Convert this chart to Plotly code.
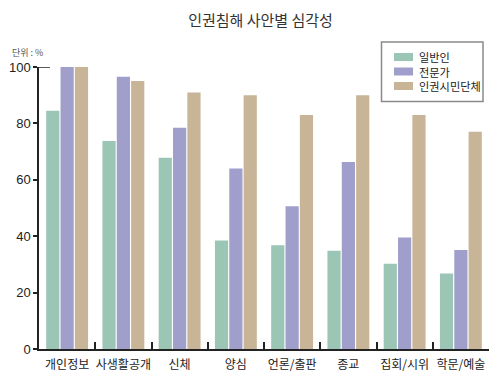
import plotly.graph_objects as go

categories = ["개인정보", "사생활공개", "신체", "양심", "언론/출판", "종교", "집회/시위", "학문/예술"]
series_names = ["일반인", "전문가", "인권시민단체"]
general = [84.5, 73.8, 67.8, 38.5, 36.8, 34.8, 30.2, 26.8]
expert = [100, 96.5, 78.5, 64, 50.6, 66.3, 39.5, 35.1]
civic = [100, 95, 91, 90, 83, 90, 83, 77]
y_ticks = [0, 20, 40, 60, 80, 100]

colors = ["#9bc6b5", "#a09ecb", "#c8b597"]
FONT = "Liberation Sans, Noto Sans CJK KR, sans-serif"
KR = "Noto Sans CJK KR"

# page has an 8px body margin; work in page pixels and convert
OFF = 8
W, H = 500 - OFF, 380 - OFF
ML, MT = 39 - OFF, 67 - OFF
PW, PH = 450, 282
MR, MB = W - ML - PW, H - MT - PH


def px_x(px):
    return (px - OFF - ML) / PW


def px_y(py):
    return (MT + PH - (py - OFF)) / PH


fig = go.Figure()
for name, vals, c in zip(series_names, [general, expert, civic], colors):
    fig.add_trace(go.Bar(x=categories, y=vals, name=name, marker=dict(color=c, line=dict(width=0))))

fig.update_layout(
    width=W, height=H,
    margin=dict(l=ML, r=MR, t=MT, b=MB),
    paper_bgcolor="white", plot_bgcolor="white",
    barmode="group", bargap=0.235, bargroupgap=0.08,
    font=dict(family=FONT, color="#222", size=13),
    title=dict(text="인권침해 사안별 심각성", x=(260.5 - OFF) / W, xanchor="center", y=1 - 7 / H, yanchor="top",
               pad=dict(t=0), font=dict(size=15, color="#333", family=KR)),
    showlegend=False,
)
fig.update_xaxes(showline=True, linecolor="#222", linewidth=1.5, ticks="inside", tickson="boundaries",
                 ticklen=7, tickcolor="#222", tickwidth=1.5, showgrid=False, tickangle=0, automargin=False,
                 ticklabelstandoff=4, tickfont=dict(size=12, family=KR, color="#222"))
fig.update_yaxes(range=[0, 100], tickvals=y_ticks, showline=True, linecolor="#222", linewidth=1.5,
                 ticks="outside", ticklen=4, tickcolor="#222", tickwidth=1.5, showgrid=False, zeroline=False,
                 automargin=False, tickfont=dict(size=13, color="#222"))
# cap at top of y axis
fig.add_shape(type="line", xref="paper", yref="y", x0=0, x1=px_x(50), y0=y_ticks[-1], y1=y_ticks[-1],
              line=dict(color="#222", width=1.5))
fig.add_annotation(text="단위 : %", xref="paper", yref="paper", x=px_x(10), y=px_y(52), xanchor="left",
                   yanchor="middle", showarrow=False, font=dict(size=9, color="#555", family=KR))

# manual legend
fig.add_shape(type="rect", xref="paper", yref="paper", x0=px_x(381.5), x1=px_x(483), y0=px_y(42), y1=px_y(101.5),
              line=dict(color="#8a8a8a", width=1.5), fillcolor="white", layer="above")
for i, c in enumerate(colors):
    cy = 57 + i * 14.5
    fig.add_shape(type="rect", xref="paper", yref="paper", x0=px_x(394), x1=px_x(413), y0=px_y(cy - 4),
                  y1=px_y(cy + 4), line=dict(width=0), fillcolor=c, layer="above")
fig.add_annotation(text="<br>".join(series_names), xref="paper", yref="paper", x=px_x(417), y=px_y(57 + 14.5),
                   xanchor="left", yanchor="middle", align="left", showarrow=False,
                   font=dict(size=11.2, color="#222", family=KR))

fig.write_html("out.html")
